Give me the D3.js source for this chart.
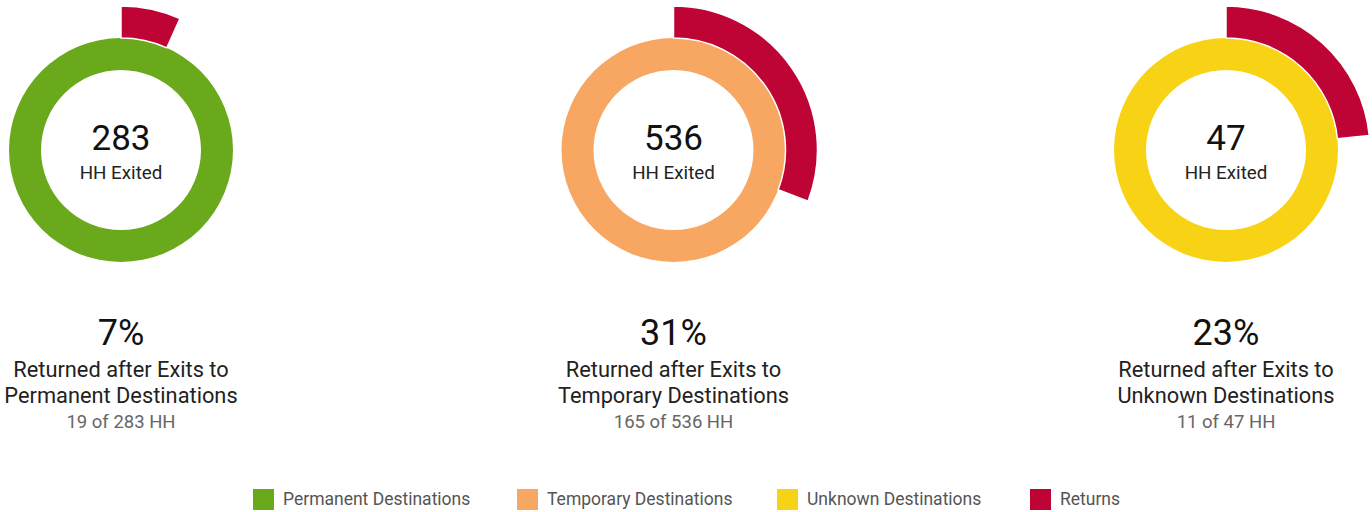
<!DOCTYPE html>
<html>
<head>
<meta charset="utf-8">
<script src="https://cdn.jsdelivr.net/npm/d3@7"></script>
<style>
  body { margin: 0; background: #fff; }
  svg { font-family: Roboto, "Noto Sans", sans-serif; }
</style>
</head>
<body>
<svg width="1372" height="512"></svg>
<script>
// data
var categories = ["Permanent Destinations", "Temporary Destinations", "Unknown Destinations"];
var exited = [283, 536, 47];
var returned = [19, 165, 11];
var colors = ["#6aa91c", "#f8a762", "#f8d315"];
var returnsLabel = "Returns";
var returnsColor = "#bd0435";

var svg = d3.select("svg"),
    width = +svg.attr("width");

var cx = d3.scalePoint().domain(d3.range(categories.length)).range([121, 1226]),
    cy = 150;

var angle = d3.scaleLinear().domain([0, 1]).range([0, 2 * Math.PI]);

var ring = d3.arc().innerRadius(80).outerRadius(112).startAngle(0).endAngle(2 * Math.PI);
var retArc = d3.arc().innerRadius(112).outerRadius(144).startAngle(0);

var g = svg.selectAll("g.donut")
    .data(categories)
  .enter().append("g")
    .attr("class", "donut")
    .attr("transform", function(d, i) { return "translate(" + cx(i) + "," + cy + ")"; });

g.append("path")
    .attr("d", ring())
    .attr("fill", function(d, i) { return colors[i]; });

g.append("path")
    .attr("d", function(d, i) { return retArc.endAngle(angle(returned[i] / exited[i]))(); })
    .attr("fill", returnsColor)
    .attr("stroke", "#fff")
    .attr("stroke-width", 1.5);

g.append("text")
    .attr("text-anchor", "middle")
    .attr("y", 0)
    .attr("font-size", 35)
    .attr("fill", "#111")
    .text(function(d, i) { return exited[i]; });

g.append("text")
    .attr("text-anchor", "middle")
    .attr("y", 29)
    .attr("font-size", 18.8)
    .attr("fill", "#222")
    .text("HH Exited");

g.append("text")
    .attr("text-anchor", "middle")
    .attr("y", 195)
    .attr("font-size", 36)
    .attr("fill", "#111")
    .text(function(d, i) { return Math.round(returned[i] / exited[i] * 100) + "%"; });

g.append("text")
    .attr("text-anchor", "middle")
    .attr("y", 227)
    .attr("font-size", 21.8)
    .attr("fill", "#222")
    .text("Returned after Exits to");

g.append("text")
    .attr("text-anchor", "middle")
    .attr("y", 253)
    .attr("font-size", 21.8)
    .attr("fill", "#222")
    .text(function(d) { return d; });

g.append("text")
    .attr("text-anchor", "middle")
    .attr("y", 278)
    .attr("font-size", 18.5)
    .attr("fill", "#666")
    .text(function(d, i) { return returned[i] + " of " + exited[i] + " HH"; });

// legend
var legendItems = categories.concat([returnsLabel]),
    legendColors = colors.concat([returnsColor]),
    legendX = [253, 517, 777, 1030];

var lg = svg.selectAll("g.legend")
    .data(legendItems)
  .enter().append("g")
    .attr("class", "legend")
    .attr("transform", function(d, i) { return "translate(" + legendX[i] + ",489)"; });

lg.append("rect")
    .attr("width", 21)
    .attr("height", 21)
    .attr("fill", function(d, i) { return legendColors[i]; });

lg.append("text")
    .attr("x", 30)
    .attr("y", 16)
    .attr("font-size", 17.5)
    .attr("fill", "#555")
    .text(function(d) { return d; });
</script>
</body>
</html>
